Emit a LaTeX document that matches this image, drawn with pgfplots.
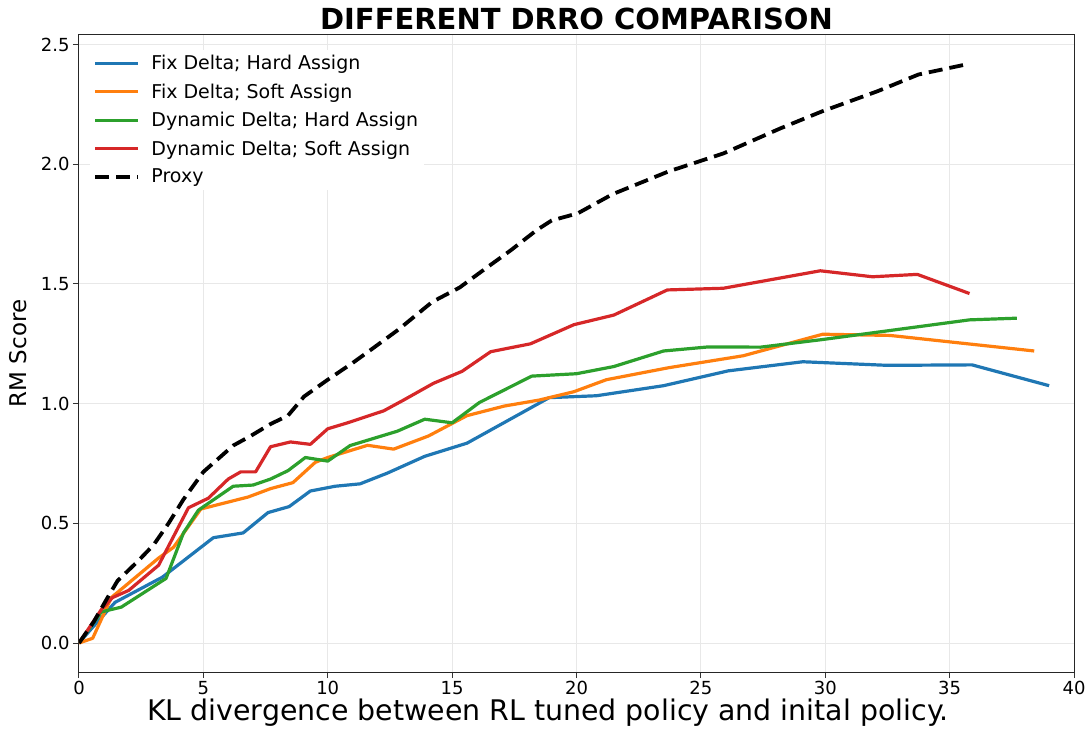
\documentclass[border=0pt]{standalone}
\usepackage{fontspec}
\setmainfont{DejaVu Sans}
\usepackage{pgfplots}
\pgfplotsset{compat=1.18}
\definecolor{tabblue}{HTML}{1F77B4}
\definecolor{taborange}{HTML}{FF7F0E}
\definecolor{tabgreen}{HTML}{2CA02C}
\definecolor{tabred}{HTML}{D62728}
\begin{document}
\begin{tikzpicture}
\begin{axis}[
  scale only axis, width=995pt, height=637pt,
  xmin=0, xmax=40, ymin=-0.121, ymax=2.54,
  xtick={0,5,...,40}, ytick={0,0.5,1,1.5,2,2.5},
  yticklabel style={/pgf/number format/fixed, /pgf/number format/fixed zerofill, /pgf/number format/precision=1},
  /pgf/number format/assume math mode=true,
  tick label style={font=\fontsize{18}{21}\selectfont},
  tick align=outside, major tick length=6pt,
  xtick pos=bottom, ytick pos=left,
  tick style={black!80, line width=1pt},
  axis line style={black!85, line width=1pt},
  grid=major, grid style={black!9, line width=1pt},
  title={DIFFERENT DRRO COMPARISON},
  title style={at={(0.5,1)}, anchor=base, yshift=-1pt, font=\bfseries\fontsize{29}{34}\selectfont},
  xlabel={KL divergence between RL tuned policy and inital policy.},
  xlabel style={at={(0.5,0)}, anchor=base, yshift=-48pt, xshift=-28.5pt, font=\fontsize{28.4}{33}\selectfont},
  ylabel={RM Score},
  ylabel style={at={(-0.0523,0.5)}, anchor=base, font=\fontsize{23}{27}\selectfont},
  legend cell align=left,
  legend style={at={(0.011,0.977)}, anchor=north west, draw=none, fill=white,
    font=\fontsize{19}{22}\selectfont, row sep=7.5pt, column sep=9pt, inner sep=3pt,
    nodes={inner sep=2.5pt}},
  legend image code/.code={\draw[#1] (0pt,0pt) -- (43pt,0pt);},
  every axis plot/.append style={line width=3.2pt, line join=round},
]
\addplot[tabblue] coordinates {
(0,0) (0.5,0.06) (1.45,0.17) (3.35,0.275) (5.4,0.44) (6.6,0.46) (7.6,0.545) (8.45,0.57)
(9.3,0.635) (10.3,0.655) (11.3,0.665) (12.4,0.71) (13.9,0.78) (15.6,0.835) (18.9,1.025)
(20.8,1.033) (23.5,1.075) (26.1,1.137) (29.1,1.175) (32.5,1.16) (35.9,1.162) (39.0,1.075)};
\addlegendentry{Fix Delta; Hard Assign}
\addplot[taborange] coordinates {
(0,0) (0.55,0.02) (1.3,0.19) (3.2,0.355) (3.8,0.40) (4.9,0.56) (6.8,0.61) (7.7,0.645)
(8.6,0.67) (9.5,0.755) (10,0.775) (11.6,0.826) (12.65,0.81) (14.05,0.865) (15.6,0.95)
(17.1,0.99) (18.5,1.015) (19.9,1.05) (21.2,1.1) (23.7,1.15) (26.7,1.2) (29.9,1.29)
(32.6,1.285) (38.4,1.22)};
\addlegendentry{Fix Delta; Soft Assign}
\addplot[tabgreen] coordinates {
(0,0) (0.9,0.13) (1.7,0.15) (3.5,0.27) (4.2,0.46) (4.8,0.555) (6.2,0.655) (7.0,0.66)
(7.7,0.685) (8.4,0.72) (9.1,0.775) (10.0,0.76) (10.9,0.825) (12.8,0.885) (13.9,0.935)
(15.0,0.92) (16.1,1.005) (18.2,1.115) (20.0,1.125) (21.5,1.155) (23.5,1.22) (25.3,1.237)
(27.4,1.236) (29.9,1.268) (35.8,1.35) (37.7,1.357)};
\addlegendentry{Dynamic Delta; Hard Assign}
\addplot[tabred] coordinates {
(0,0) (0.9,0.14) (1.35,0.19) (2.0,0.22) (3.2,0.325) (4.4,0.565) (5.2,0.605) (6.0,0.685)
(6.5,0.715) (7.1,0.715) (7.7,0.82) (8.5,0.84) (9.3,0.83) (10.0,0.895) (10.8,0.92)
(12.25,0.97) (13.05,1.015) (14.25,1.085) (15.4,1.135) (16.55,1.217) (18.15,1.25)
(19.9,1.33) (21.5,1.37) (23.65,1.475) (25.9,1.482) (29.8,1.555) (31.9,1.53) (33.7,1.54)
(35.8,1.46)};
\addlegendentry{Dynamic Delta; Soft Assign}
\addplot[black, line width=3.8pt, dash pattern=on 14pt off 7pt] coordinates {
(0,0) (0.6,0.09) (1.15,0.19) (1.55,0.26) (2.35,0.34) (3.0,0.41) (3.6,0.5) (4.2,0.6)
(5.0,0.715) (5.6,0.77) (6.2,0.825) (6.9,0.865) (7.7,0.915) (8.4,0.95) (9.05,1.03)
(10.0,1.1) (11.0,1.17) (11.8,1.23) (12.85,1.31) (14.2,1.425) (15.3,1.485) (16.35,1.565)
(17.35,1.64) (18.4,1.725) (19.0,1.765) (20.05,1.795) (21.45,1.875) (23.7,1.97)
(25.9,2.045) (28.2,2.15) (29.85,2.22) (32.1,2.305) (33.75,2.375) (35.8,2.42)};
\addlegendentry{Proxy}
\end{axis}
\pgfresetboundingbox
\path ([xshift=-79pt,yshift=-56pt]current axis.south west) rectangle ([xshift=17pt,yshift=35pt]current axis.north east);
\end{tikzpicture}
\end{document}
